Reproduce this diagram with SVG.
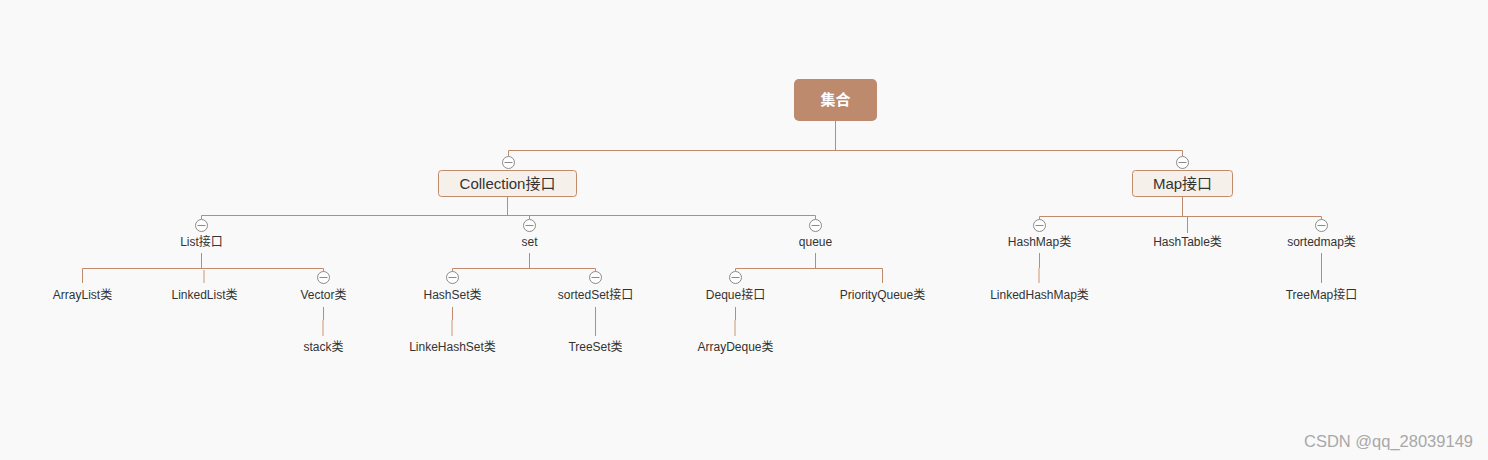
<svg xmlns="http://www.w3.org/2000/svg" width="1488" height="460" viewBox="0 0 1488 460">
<style>
.bg{fill:#f9f9f9}
.ln{stroke:#c08a6c;stroke-width:1;fill:none}
.lt{stroke:#e2c6b6;stroke-width:2;fill:none}
.tg{fill:#fff;stroke:#8a8a8a;stroke-width:1}
.tm{stroke:#8a8a8a;stroke-width:1}
.t{font-family:"Liberation Sans","Noto Sans CJK SC",sans-serif;font-size:12px;fill:#333;text-anchor:middle}
.t2{font-family:"Liberation Sans","Noto Sans CJK SC",sans-serif;font-size:15px;fill:#333;text-anchor:middle}
.box{fill:#f6f0eb;stroke:#c08a6c;stroke-width:1}
</style>
<defs>
<g id="tog"><circle class="tg" cx="0" cy="0" r="6"/><line class="tm" x1="-4" y1="0" x2="4" y2="0"/></g>
</defs>
<rect class="bg" x="0" y="0" width="1488" height="460"/>
<g id="connectors">
<path class="ln" d="M835.5 121V150.5M508.5 150.5H1182.5M508.5 150.5V156M1182.5 150.5V156"/>
<path class="ln" d="M507.5 196V215.5M201.5 215.5H815.5M201.5 215.5V219M529.5 215.5V219M815.5 215.5V219"/>
<path class="ln" d="M1182.5 196V216.5M1039.5 216.5H1321.5M1039.5 216.5V219M1321.5 216.5V219M1187.5 216.5V233"/>
<path class="ln" d="M201.5 253V268.5M82.5 268.5H323.5M82.5 268.5V283M323.5 268.5V271"/>
<line class="lt" x1="204" y1="270" x2="204" y2="283"/>
<path class="ln" d="M323.5 307V320"/><line class="lt" x1="323" y1="320" x2="323" y2="336"/>
<path class="ln" d="M529.5 253V268.5M452.5 268.5H595.5M452.5 268.5V271M595.5 268.5V271"/>
<path class="ln" d="M452.5 307V320"/><line class="lt" x1="452" y1="320" x2="452" y2="336"/>
<path class="ln" d="M595.5 307V336"/>
<path class="ln" d="M815.5 253V268.5M735.5 268.5H882.5M735.5 268.5V271M882.5 268.5V283"/>
<path class="ln" d="M735.5 307V320"/><line class="lt" x1="735" y1="320" x2="735" y2="336"/>
<path class="ln" d="M1039.5 253V268"/><line class="lt" x1="1039" y1="268" x2="1039" y2="283"/>
<path class="ln" d="M1321.5 253V283"/>
</g>
<g id="root"><rect x="794" y="79" width="83" height="42" rx="5" fill="#bd8a6d"/><text x="835.5" y="105" font-family="'Noto Sans CJK SC',sans-serif" font-size="15" font-weight="bold" fill="#fff" text-anchor="middle">集合</text></g>
<g id="collection"><use href="#tog" x="508.5" y="162.5"/><rect class="box" x="438.5" y="170.5" width="138" height="26" rx="3"/><text class="t2" x="507.5" y="188.5">Collection接口</text></g>
<g id="map"><use href="#tog" x="1182.5" y="162.5"/><rect class="box" x="1132.5" y="170.5" width="100" height="26" rx="3"/><text class="t2" x="1182.5" y="188.5">Map接口</text></g>
<g id="list"><use href="#tog" x="201.5" y="225.5"/><text class="t" x="201.5" y="246">List接口</text></g>
<g id="set"><use href="#tog" x="529.5" y="225.5"/><text class="t" x="529.5" y="246">set</text></g>
<g id="queue"><use href="#tog" x="815.5" y="225.5"/><text class="t" x="815.5" y="246">queue</text></g>
<g id="hashmap"><use href="#tog" x="1039.5" y="225.5"/><text class="t" x="1039.5" y="246">HashMap类</text></g>
<g id="hashtable"><text class="t" x="1187.5" y="246">HashTable类</text></g>
<g id="sortedmap"><use href="#tog" x="1321.5" y="225.5"/><text class="t" x="1321.5" y="246">sortedmap类</text></g>
<g id="arraylist"><text class="t" x="82.5" y="299">ArrayList类</text></g>
<g id="linkedlist"><text class="t" x="204.5" y="299">LinkedList类</text></g>
<g id="vector"><use href="#tog" x="323.5" y="277.5"/><text class="t" x="323.5" y="299">Vector类</text></g>
<g id="stack"><text class="t" x="323.5" y="351">stack类</text></g>
<g id="hashset"><use href="#tog" x="452.5" y="277.5"/><text class="t" x="452.5" y="299">HashSet类</text></g>
<g id="sortedset"><use href="#tog" x="595.5" y="277.5"/><text class="t" x="595.5" y="299">sortedSet接口</text></g>
<g id="linkehashset"><text class="t" x="452.5" y="351">LinkeHashSet类</text></g>
<g id="treeset"><text class="t" x="595.5" y="351">TreeSet类</text></g>
<g id="deque"><use href="#tog" x="735.5" y="277.5"/><text class="t" x="735.5" y="299">Deque接口</text></g>
<g id="priorityqueue"><text class="t" x="882.5" y="299">PriorityQueue类</text></g>
<g id="arraydeque"><text class="t" x="735.5" y="351">ArrayDeque类</text></g>
<g id="linkedhashmap"><text class="t" x="1039.5" y="299">LinkedHashMap类</text></g>
<g id="treemap"><text class="t" x="1321.5" y="299">TreeMap接口</text></g>
<text x="1473" y="447" font-family="'Liberation Sans',sans-serif" font-size="16.5" fill="#a8a8a8" text-anchor="end">CSDN @qq_28039149</text>
</svg>
